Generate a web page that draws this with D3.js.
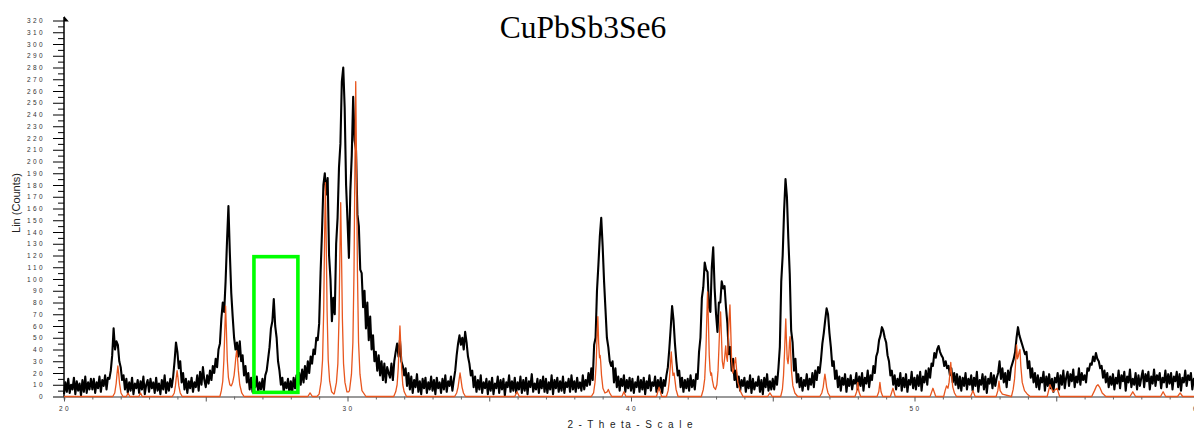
<!DOCTYPE html>
<html><head><meta charset="utf-8">
<script src="https://cdn.jsdelivr.net/npm/d3@7"></script>
<style>
body{margin:0;background:#fff;}
svg{display:block;}
</style>
</head><body>
<svg id="chart" width="1194" height="430"></svg>
<script>
// ---------------- DATA ----------------
const chartTitle = "CuPbSb3Se6";
const xAxisTitle = "2 - T h e ta - S c a l e";
const yAxisTitle = "Lin (Counts)";
const xTickLabels = [20, 30, 40, 50, 60];
const yTickLabels = [0,10,20,30,40,50,60,70,80,90,100,110,120,130,140,150,160,170,180,190,200,210,220,230,240,250,260,270,280,290,300,310,320];

// measured scan: 2-theta from 20.00 in steps of 0.05 (one row per degree)
const scanStart = 20;
const scanStep = 0.05;
const measuredCounts = [
/*20*/ 2,12,4,15,3,10,6,16,2,13,5,11,1,14,4,17,3,12,6,15,
/*21*/ 6,15,3,12,7,17,4,14,9,18,6,16,15,22,35,58,40,47,44,30,
/*22*/ 25,14,18,6,15,3,12,5,16,2,11,7,14,3,13,6,17,2,10,14,
/*23*/ 4,15,7,12,3,16,5,11,2,14,6,18,3,12,5,15,8,17,30,46,
/*24*/ 38,24,30,12,20,6,15,3,13,7,16,4,12,8,18,5,21,10,25,14,
/*25*/ 8,18,11,22,14,26,20,32,25,40,45,66,80,72,98,132,162,122,88,68,
/*26*/ 50,40,46,34,47,30,35,18,26,12,20,6,16,4,14,8,17,3,12,6,
/*27*/ 15,5,18,22,32,42,58,64,83,60,50,30,22,10,16,4,12,7,15,3,
/*28*/ 13,4,16,7,18,6,20,10,23,12,26,15,30,20,34,28,40,36,50,48,
/*29*/ 62,105,140,180,190,172,186,120,100,64,84,70,130,152,195,215,268,280,246,180,
/*30*/ 150,118,175,205,255,218,210,155,145,108,105,76,90,58,80,48,68,40,52,30,
/*31*/ 38,22,35,18,30,14,28,12,25,20,16,28,14,30,38,45,34,48,30,26,
/*32*/ 18,24,9,20,6,17,3,14,8,19,4,13,2,15,7,16,3,12,6,17,
/*33*/ 5,14,2,16,7,12,3,15,6,18,4,13,9,17,5,14,22,35,45,52,
/*34*/ 44,50,40,55,46,34,28,18,22,8,17,4,14,6,18,3,12,7,15,2,
/*35*/ 13,5,16,2,11,7,17,3,14,6,15,1,12,8,18,4,13,5,16,3,
/*36*/ 12,6,17,3,14,5,16,2,13,8,19,4,11,6,15,3,14,7,17,4,
/*37*/ 15,3,12,6,18,2,14,7,16,4,13,5,17,3,12,8,15,4,18,6,
/*38*/ 13,4,16,7,12,5,18,6,14,9,20,10,24,14,44,50,90,112,136,152,
/*39*/ 128,98,74,50,42,30,26,30,12,24,8,17,5,15,9,18,4,14,7,16,
/*40*/ 5,15,3,12,8,17,4,14,6,16,2,13,7,18,5,12,9,17,4,14,
/*41*/ 6,16,3,14,9,18,25,40,58,77,65,45,30,18,22,8,16,4,14,7,
/*42*/ 15,5,18,8,14,6,19,15,38,50,84,93,114,108,106,76,72,110,127,92,
/*43*/ 70,55,80,80,98,92,94,76,62,36,42,22,32,14,22,8,17,5,14,9,
/*44*/ 16,4,13,7,18,3,15,6,12,9,17,4,14,2,16,8,19,5,13,6,
/*45*/ 15,6,17,10,24,42,98,120,158,185,170,134,104,56,46,22,32,12,19,8,
/*46*/ 16,5,14,9,19,6,15,10,20,8,22,14,25,20,31,45,54,65,75,70,
/*47*/ 54,42,26,30,15,22,8,17,5,16,10,19,4,15,9,18,6,14,11,20,
/*48*/ 6,17,9,20,5,16,11,22,8,18,14,26,20,34,38,48,52,59,56,50,
/*49*/ 46,35,30,18,22,10,18,6,15,9,20,5,16,8,19,4,14,10,21,7,
/*50*/ 16,6,18,9,21,5,17,12,22,10,24,16,28,26,37,33,40,43,38,35,
/*51*/ 33,26,30,24,26,18,24,12,20,10,19,7,17,5,16,9,20,6,15,10,
/*52*/ 18,5,16,9,21,4,14,10,19,6,17,3,15,11,20,7,18,9,16,20,
/*53*/ 30,15,24,12,20,8,22,14,24,28,32,38,50,59,52,48,44,40,36,38,
/*54*/ 24,30,16,24,12,20,8,18,6,16,12,21,5,17,9,19,7,15,4,16,
/*55*/ 12,20,6,18,10,22,7,16,21,9,19,13,23,8,17,12,24,10,20,14,
/*56*/ 18,12,24,22,28,27,34,30,37,32,30,24,26,16,22,12,20,8,17,10,
/*57*/ 19,6,16,11,22,7,18,13,21,5,17,12,23,8,15,10,20,6,18,9,
/*58*/ 16,22,8,19,13,21,6,17,11,23,9,18,14,20,7,16,12,22,8,19,
/*59*/ 11,20,6,17,13,21,8,19,5,16,12,22,9,18,14,20,6,15,11,18,
/*60*/ 12
];

// calculated pattern: [2-theta, counts]
const calculatedPattern = [
[20,0],
[21.72,0],[21.79,3],[21.84,11],[21.87,19],[21.90,26],[21.93,19],[21.96,11],[22.01,3],[22.08,0],
[22.2,0],[22.26,3],[22.32,0],[22.64,0],[22.70,3],[22.76,0],
[23.82,0],[23.89,3],[23.93,9],[23.96,16],[23.99,22],[24.02,16],[24.05,9],[24.10,3],[24.17,0],
[25.50,0],[25.55,5],[25.60,13],[25.64,31],[25.67,55],[25.70,77],[25.73,55],[25.76,31],[25.80,16],[25.85,10],[25.90,9],[25.95,12],[26.00,18],[26.03,25],[26.06,33],[26.09,39],[26.12,33],[26.15,22],[26.20,10],[26.27,3],[26.35,0],
[28.6,0],[28.68,3],[28.76,0],
[28.92,0],[29.00,2],[29.07,13],[29.12,31],[29.16,73],[29.19,131],[29.22,182],[29.25,131],[29.28,73],[29.32,31],[29.37,13],[29.44,4],[29.52,2],
[29.54,3],[29.61,12],[29.66,28],[29.70,66],[29.73,119],[29.76,165],[29.79,119],[29.82,66],[29.86,28],[29.91,12],[29.98,4],
[30.04,4],[30.07,5],[30.14,19],[30.19,46],[30.23,107],[30.26,193],[30.29,268],[30.32,193],[30.35,107],[30.39,46],[30.44,19],[30.51,5],[30.65,0],
[31.63,0],[31.70,4],[31.75,10],[31.79,24],[31.82,43],[31.85,60],[31.88,43],[31.91,24],[31.95,10],[32.00,4],[32.08,0],
[33.78,0],[33.85,3],[33.90,8],[33.94,15],[33.97,20],[34.00,15],[34.04,8],[34.09,3],[34.16,0],
[35.9,0],[35.98,4],[36.06,0],
[38.60,0],[38.68,3],[38.73,12],[38.77,27],[38.80,49],[38.83,68],[38.86,45],[38.89,33],[38.91,35],[38.93,30],[38.96,18],[39.01,7],[39.08,3],[39.16,4],[39.20,6],[39.25,3],[39.32,0],
[39.68,0],[39.75,4],[39.82,0],[40.9,0],[40.99,8],[41.08,0],
[41.25,0],[41.31,5],[41.35,13],[41.39,27],[41.42,38],[41.45,27],[41.48,18],[41.50,19],[41.52,20],[41.55,14],[41.59,6],[41.66,0],
[42.48,0],[42.55,6],[42.60,15],[42.64,36],[42.67,64],[42.70,89],[42.73,64],[42.76,35],[42.79,22],[42.82,18],[42.84,20],[42.87,14],[42.92,8],[42.98,6],[43.03,10],[43.07,22],[43.10,40],[43.13,60],[43.16,72],[43.19,52],[43.22,30],[43.26,24],[43.30,32],[43.34,43],[43.37,34],[43.40,30],[43.43,48],[43.46,66],[43.49,78],[43.52,55],[43.55,30],[43.59,20],[43.63,24],[43.66,30],[43.69,33],[43.72,24],[43.77,12],[43.85,5],[43.95,0],
[44.82,0],[44.90,3],[44.98,0],
[45.28,0],[45.34,6],[45.38,18],[45.42,40],[45.44,54],[45.46,66],[45.48,50],[45.51,32],[45.54,28],[45.57,36],[45.59,46],[45.61,51],[45.63,40],[45.66,22],[45.71,9],[45.78,3],[45.88,0],
[46.66,0],[46.73,3],[46.78,8],[46.81,14],[46.84,19],[46.87,14],[46.90,8],[46.95,3],[47.02,0],
[47.90,0],[47.96,4],[48.00,12],[48.04,4],[48.10,0],
[48.68,0],[48.74,4],[48.78,12],[48.82,4],[48.88,0],
[49.15,0],[49.24,7],[49.32,0],
[50.55,0],[50.65,7],[50.75,0],
[51.03,0],[51.08,5],[51.13,9],[51.18,7],[51.22,12],[51.25,20],[51.28,29],[51.31,18],[51.35,8],[51.41,3],[51.48,0],
[51.98,0],[52.06,5],[52.14,0],
[52.88,0],[52.94,5],[52.98,13],[53.02,5],[53.10,2],
[53.42,0],[53.48,6],[53.53,15],[53.57,30],[53.60,44],[53.63,32],[53.66,34],[53.69,38],[53.72,40],[53.75,26],[53.80,12],[53.88,5],[53.98,2],[54.08,0],
[54.68,0],[54.78,10],[54.88,4],[55.03,7],[55.12,0],
[56.25,0],[56.35,5],[56.42,9],[56.47,10],[56.53,8],[56.62,3],[56.75,0],
[57.60,0],[57.70,4],[57.80,0],
[58.68,0],[58.77,4],[58.86,0],
[59.28,0],[59.37,3],[59.46,0],
[60,0]
];

// highlighted region (2-theta and counts)
const highlightTheta = [26.7, 28.25];
const highlightCounts = [3.5, 119];

// ---------------- DRAWING ----------------
const svg = d3.select("#chart");
const x = d3.scaleLinear().domain([20, 60]).range([64, 1198]);
const y = d3.scaleLinear().domain([0, 320]).range([396.5, 20.5]);

const measured = measuredCounts.map((c, i) => [scanStart + i * scanStep, c]);

// x axis (gray baseline with ticks)
const xMinor = d3.range(20, 61, 1).filter(v => v % 5 !== 0);
const xMid = d3.range(20, 61, 5);
const gxMinor = svg.append("g").attr("transform", `translate(0,${y(0)})`)
  .call(d3.axisBottom(x).tickValues(xMinor).tickSize(3).tickFormat(""));
gxMinor.select(".domain").attr("stroke", "#999").attr("stroke-width", 2);
gxMinor.selectAll(".tick line").attr("stroke", "#666");
const gxMajor = svg.append("g").attr("transform", `translate(0,${y(0)})`)
  .call(d3.axisBottom(x).tickValues(xMid).tickSize(5).tickFormat(""));
gxMajor.select(".domain").remove();
gxMajor.selectAll(".tick line").attr("stroke", "#555");

svg.append("g").selectAll("text").data(xTickLabels).join("text")
  .attr("x", d => x(d) + 1)
  .attr("y", 411)
  .attr("text-anchor", "middle")
  .attr("font-family", "Liberation Sans, Arial, sans-serif")
  .attr("font-size", 6.5)
  .attr("letter-spacing", 2.4)
  .attr("fill", "#333")
  .text(d => d);

svg.append("text")
  .attr("x", 630).attr("y", 428)
  .attr("text-anchor", "middle")
  .attr("font-family", "Liberation Sans, Arial, sans-serif")
  .attr("font-size", 10)
  .attr("textLength", 125).attr("lengthAdjust", "spacing")
  .attr("fill", "#222")
  .text(xAxisTitle);

// y axis
const yMinor = d3.range(5, 320, 10);
const gyMinor = svg.append("g").attr("transform", "translate(64,0)")
  .call(d3.axisLeft(y).tickValues(yMinor).tickSize(6).tickFormat(""));
gyMinor.select(".domain").remove();
gyMinor.selectAll(".tick line").attr("stroke", "#000");
const gy = svg.append("g").attr("transform", "translate(64,0)")
  .call(d3.axisLeft(y).tickValues(yTickLabels).tickSize(11).tickPadding(8));
gy.select(".domain").remove();
gy.selectAll(".tick line").attr("stroke", "#000");
gy.selectAll(".tick text")
  .attr("font-family", "Liberation Sans, Arial, sans-serif")
  .attr("font-size", 6.5)
  .attr("letter-spacing", 2.4)
  .attr("fill", "#333");

svg.append("line")
  .attr("x1", 64).attr("x2", 64)
  .attr("y1", y(0)).attr("y2", 17)
  .attr("stroke", "#000").attr("stroke-width", 1.5);
svg.append("path")
  .attr("d", "M64,16 L68.8,21.5 L64,21.5 Z")
  .attr("fill", "#000");

svg.append("text")
  .attr("transform", "translate(20,203) rotate(-90)")
  .attr("text-anchor", "middle")
  .attr("font-family", "Liberation Sans, Arial, sans-serif")
  .attr("font-size", 11)
  .attr("fill", "#222")
  .text(yAxisTitle);

// measured trace
const line = d3.line().x(d => x(d[0])).y(d => y(d[1]));
svg.append("path")
  .datum(measured)
  .attr("d", line)
  .attr("fill", "none")
  .attr("stroke", "#000")
  .attr("stroke-width", 2.1)
  .attr("stroke-linejoin", "round");

// calculated trace
svg.append("path")
  .datum(calculatedPattern)
  .attr("d", line)
  .attr("fill", "none")
  .attr("stroke", "#e8561e")
  .attr("stroke-width", 1.3)
  .attr("stroke-linejoin", "round");

// highlight box
svg.append("rect")
  .attr("x", x(highlightTheta[0]))
  .attr("y", y(highlightCounts[1]))
  .attr("width", x(highlightTheta[1]) - x(highlightTheta[0]))
  .attr("height", y(highlightCounts[0]) - y(highlightCounts[1]))
  .attr("fill", "none")
  .attr("stroke", "#00ff00")
  .attr("stroke-width", 3.6);

// title
svg.append("text")
  .attr("x", 583).attr("y", 38)
  .attr("text-anchor", "middle")
  .attr("font-family", "Liberation Serif, Times New Roman, serif")
  .attr("font-size", 31.5)
  .attr("fill", "#000")
  .text(chartTitle);
</script>
</body></html>
